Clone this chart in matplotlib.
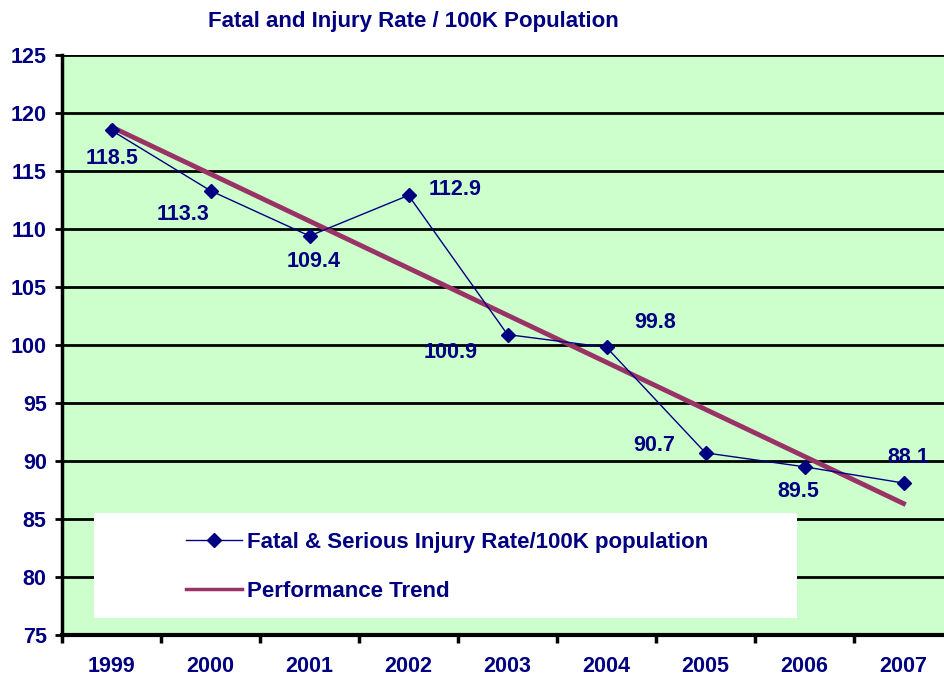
import numpy as np
import matplotlib
matplotlib.use("Agg")
from matplotlib import pyplot as plt
from matplotlib.patches import Rectangle

years = ["1999", "2000", "2001", "2002", "2003", "2004", "2005", "2006", "2007"]
rate = [118.5, 113.3, 109.4, 112.9, 100.9, 99.8, 90.7, 89.5, 88.1]
# where each value label sits relative to its point (pixels)
label_off = [(1, -28), (-28, -24), (4, -26), (47, 6), (-57, -18),
             (49, 25), (-51, 7), (-6, -25), (5, 26)]

navy = "#000080"
plum = "#993366"
green = "#CCFFCC"
W, H = 944, 677

plt.rcParams['font.family'] = ['Liberation Sans', 'DejaVu Sans']
plt.rcParams['font.weight'] = 'bold'

fig = plt.figure(figsize=(W / 100, H / 100), dpi=100)
# plot area runs past the right edge of the picture, like the original
ax = fig.add_axes([62 / W, 1 - 635 / H, 891 / W, 580 / H])
ax.set_facecolor(green)

x = np.arange(len(years))
slope, icpt = np.polyfit(x, rate, 1)
trend = slope * x + icpt

ax.set_ylim(75, 125)
ax.set_xlim(-0.5, len(years) - 0.5)
for v in np.arange(80, 126, 5):
    ax.axhline(v, color='k', lw=2, zorder=1)

ax.add_patch(Rectangle((32 / 891, 17 / 580), 703 / 891, 105 / 580,
                       transform=ax.transAxes, facecolor='white',
                       edgecolor='none', zorder=2))

l1, = ax.plot(x, rate, color=navy, lw=1, marker='D', ms=7, zorder=4,
              label="Fatal & Serious Injury Rate/100K population")
l2, = ax.plot([x[0], x[-1]], [trend[0], trend[-1]], color=plum, lw=3.5,
              zorder=3, label="Performance Trend")

for xi, v, (dx, dy) in zip(x, rate, label_off):
    ax.annotate(f"{v:.1f}", (xi, v), xytext=(dx, dy),
                textcoords='offset pixels', ha='center', va='center',
                color=navy, fontsize=15.5, fontweight='bold', zorder=5)

leg = ax.legend(handles=[l1, l2], loc='lower left',
                bbox_to_anchor=(104 / 891, 13 / 580), frameon=False,
                fontsize=16, handlelength=2.5, handletextpad=0.25,
                labelspacing=1.27, labelcolor=navy)
for t in leg.get_texts():
    t.set_fontweight('bold')
leg.get_lines()[1].set_linewidth(2.5)
leg.set_zorder(6)

ax.spines['top'].set_visible(False)
ax.spines['right'].set_visible(False)
ax.spines['left'].set_linewidth(2.5)
ax.spines['bottom'].set_linewidth(3)

ax.set_yticks(np.arange(75, 126, 5))
ax.tick_params(axis='y', length=5, width=2, pad=6, labelsize=15.5,
               labelcolor=navy)
ax.set_xticks(x)
ax.set_xticklabels(years)
ax.set_xticks(np.arange(-0.5, len(years), 1), minor=True)
ax.tick_params(axis='x', which='major', length=0, pad=15, labelsize=15.5,
               labelcolor=navy)
ax.tick_params(axis='x', which='minor', length=6, width=2.5)
for lab in ax.get_xticklabels() + ax.get_yticklabels():
    lab.set_fontweight('bold')

fig.text(413 / W, 1 - 21 / H, "Fatal and Injury Rate / 100K Population",
         ha='center', va='center', color=navy, fontsize=16, fontweight='bold')

fig.savefig("out.png", dpi=100)
